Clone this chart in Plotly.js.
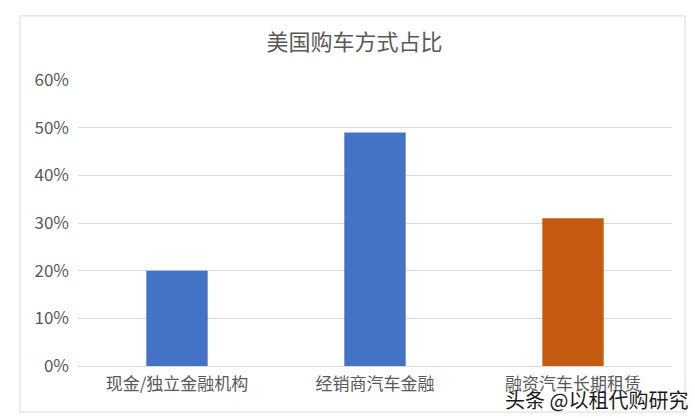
<!DOCTYPE html>
<html>
<head>
<meta charset="utf-8">
<script src="https://cdn.plot.ly/plotly-3.0.1.min.js"></script>
<style>
  html, body { margin: 0; padding: 0; background: #fff; }
  #chart { width: 695px; height: 418px; }
</style>
</head>
<body>
<div id="chart"></div>
<script>
var CATEGORIES = ["现金/独立金融机构", "经销商汽车金融", "融资汽车长期租赁"];
var SHARES = [0.20, 0.49, 0.31];
var Y_TICKS = [0, 0.1, 0.2, 0.3, 0.4, 0.5, 0.6];
var Y_TICK_LABELS = ["0%", "10%", "20%", "30%", "40%", "50%", "60%"];

(function () {
  var FONT = "'Noto Sans CJK SC', 'Noto Sans', sans-serif";
  var BAR_COLORS = ["#4472C4", "#4472C4", "#C55A11"];

  var trace = {
    type: "bar",
    x: CATEGORIES,
    y: SHARES,
    marker: { color: BAR_COLORS },
    hoverinfo: "x+y"
  };

  var layout = {
    width: 695,
    height: 418,
    margin: { l: 78, r: 23, t: 80, b: 52 },
    paper_bgcolor: "#fff",
    plot_bgcolor: "#fff",
    bargap: 0.69,
    showlegend: false,
    font: { family: FONT, color: "#595959" },
    title: {
      text: "美国购车方式占比",
      font: { family: FONT, size: 22, color: "#595959" },
      x: 0.51,
      xanchor: "center",
      y: 0.898,
      yanchor: "middle"
    },
    xaxis: {
      showgrid: false,
      showline: false,
      ticks: "",
      ticklabelstandoff: 6,
      tickfont: { family: FONT, size: 17, color: "#595959" }
    },
    yaxis: {
      range: [0, 0.6],
      tickvals: Y_TICKS,
      ticktext: Y_TICK_LABELS,
      showgrid: true,
      gridcolor: "#d9d9d9",
      gridwidth: 1,
      zeroline: true,
      zerolinecolor: "#d9d9d9",
      zerolinewidth: 1,
      ticks: "",
      ticklabelstandoff: 8,
      tickfont: { family: FONT, size: 17, color: "#595959" }
    },
    shapes: [{
      type: "rect",
      xref: "paper", yref: "paper",
      x0: -0.0976, x1: 1.022, y0: -0.161, y1: 1.224,
      line: { color: "#d9d9d9", width: 1 },
      fillcolor: "rgba(0,0,0,0)",
      layer: "below"
    }],
    annotations: [{
      text: "头条 @以租代购研究",
      xref: "paper", yref: "paper",
      x: 1.03, y: -0.118,
      xanchor: "right", yanchor: "middle",
      showarrow: false,
      font: { family: FONT, size: 20, color: "#1a1a1a" }
    }]
  };

  Plotly.newPlot("chart", [trace], layout, { displayModeBar: false, staticPlot: true });
})();
</script>
</body>
</html>
